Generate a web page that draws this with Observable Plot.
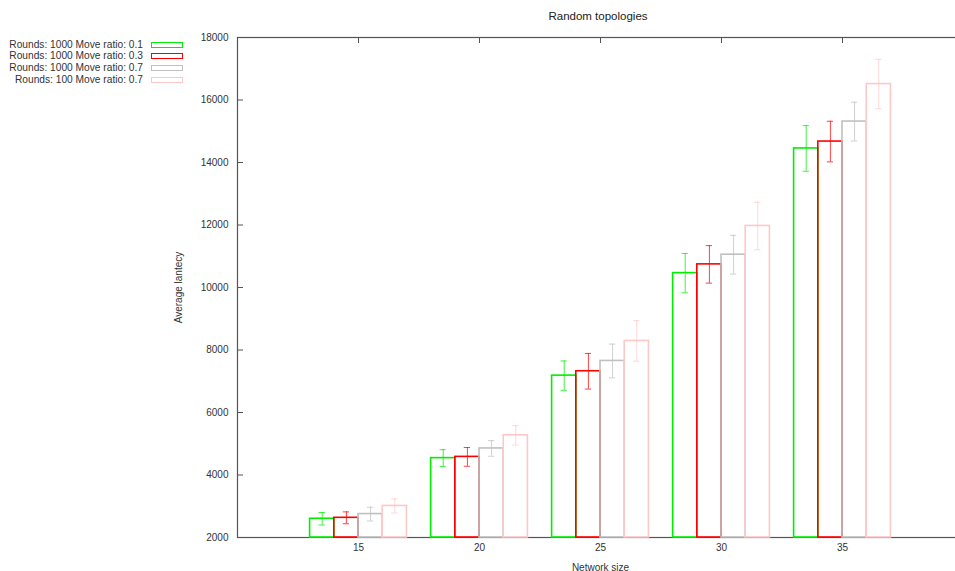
<!DOCTYPE html>
<html>
<head>
<meta charset="utf-8">
<script src="https://cdn.jsdelivr.net/npm/d3@7"></script>
<script src="https://cdn.jsdelivr.net/npm/@observablehq/plot@0.6"></script>
<style>
  body { margin: 0; background: #fff; font-family: "Liberation Sans", Arial, sans-serif; }
  #wrap { position: relative; width: 955px; height: 571px; }
  #title { position: absolute; left: 0; width: 1196px; top: 10px; text-align: center; font-size: 11.5px; color: #222; }
  #legend { position: absolute; left: 0; top: 38.5px; font-size: 10.2px; color: #333; }
  .row { position: absolute; height: 12px; line-height: 12px; white-space: nowrap; }
  .lbl { position: absolute; right: 0; text-align: right; }
  .sw { position: absolute; width: 30px; height: 4px; border-width: 1.5px; border-style: solid; }
</style>
</head>
<body>
<div id="wrap">
  <div id="chart"></div>
  <div id="title">Random topologies</div>
  <div id="legend"></div>
</div>
<script>
const sizes = [15, 20, 25, 30, 35];
const seriesNames = [
  "Rounds: 1000 Move ratio: 0.1",
  "Rounds: 1000 Move ratio: 0.3",
  "Rounds: 1000 Move ratio: 0.7",
  "Rounds: 100 Move ratio: 0.7"
];
const seriesColors = ["#00ee00", "#ff0000", "#c0c0c0", "#ffc8c8"];
const means = [
  [2600, 4540, 7180, 10460, 14450],
  [2630, 4580, 7320, 10740, 14670],
  [2750, 4850, 7650, 11050, 15310],
  [3010, 5270, 8290, 11970, 16510]
];
const errs = [
  [200, 270, 470, 630, 730],
  [190, 300, 570, 600, 650],
  [220, 250, 540, 620, 620],
  [225, 310, 650, 760, 790]
];
const yTicks = [2000, 4000, 6000, 8000, 10000, 12000, 14000, 16000, 18000];

const rows = [];
seriesNames.forEach((s, i) => sizes.forEach((n, j) => rows.push({
  series: s, i, size: n, mean: means[i][j], err: errs[i][j],
  x1: n - 2 + i, x2: n - 1 + i, xc: n - 1.5 + i
})));

const color = {domain: seriesNames, range: seriesColors};

const chart = Plot.plot({
  width: 955,
  height: 571,
  marginLeft: 237,
  marginRight: -8,
  marginTop: 37,
  marginBottom: 34,
  style: {fontFamily: "Liberation Sans, Arial, sans-serif", fontSize: "10px", color: "#333", background: "#fff"},
  x: {domain: [10, 40]},
  y: {domain: [2000, 18000]},
  color,
  marks: [
    Plot.axisY(yTicks, {tickSize: -6, tickPadding: 15, tickFormat: d3.format("d"), stroke: "#555", label: "Average lantecy", labelAnchor: "center", labelOffset: 63, labelArrow: "none"}),
    Plot.axisX(sizes, {tickSize: -6, tickPadding: 12, tickFormat: d3.format("d"), stroke: "#555", label: "Network size", labelAnchor: "center", labelOffset: 33, labelArrow: "none"}),
    Plot.axisX(sizes, {anchor: "top", tickSize: -5, tickFormat: () => "", stroke: "#555", label: null}),
    Plot.frame({stroke: "#555", strokeWidth: 1.2}),
    Plot.rectY(rows, {x1: "x1", x2: "x2", y1: 2000, y2: "mean", stroke: "series", strokeWidth: 1.6, fill: "none"}),
    Plot.ruleX(rows, {x: "xc", y1: d => d.mean - d.err, y2: d => d.mean + d.err, stroke: "series", strokeOpacity: 0.75, strokeWidth: 1}),
    Plot.ruleY(rows, {y: d => d.mean + d.err, x1: d => d.xc - 0.13, x2: d => d.xc + 0.13, stroke: "series", strokeOpacity: 0.75, strokeWidth: 1}),
    Plot.ruleY(rows, {y: d => d.mean - d.err, x1: d => d.xc - 0.13, x2: d => d.xc + 0.13, stroke: "series", strokeOpacity: 0.75, strokeWidth: 1})
  ]
});
document.getElementById("chart").appendChild(chart);

const legend = document.getElementById("legend");
seriesNames.forEach((s, i) => {
  const row = document.createElement("div");
  row.className = "row";
  row.style.top = (i * 11.9) + "px";
  row.style.left = "0px";
  row.style.width = "190px";
  const lbl = document.createElement("span");
  lbl.className = "lbl";
  lbl.style.right = "47px";
  lbl.textContent = s;
  const sw = document.createElement("span");
  sw.className = "sw";
  sw.style.left = "151px";
  sw.style.top = "3px";
  sw.style.borderColor = seriesColors[i];
  row.appendChild(lbl);
  row.appendChild(sw);
  legend.appendChild(row);
});
</script>
</body>
</html>
